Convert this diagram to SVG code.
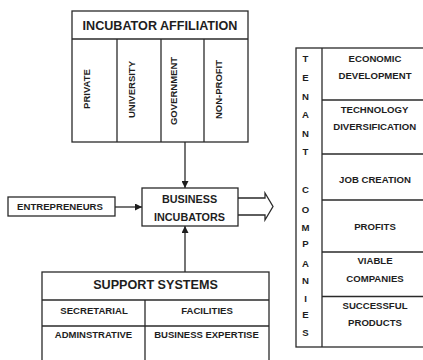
<svg xmlns="http://www.w3.org/2000/svg" width="423" height="360" viewBox="0 0 423 360">
<defs>
<style>
.box{fill:#fff;stroke:#2a2a2a;stroke-width:1.3}
.ln{fill:none;stroke:#2a2a2a;stroke-width:1.3}
text{font-family:"Liberation Sans",Arial,sans-serif;font-weight:bold;fill:#1e1e1e;text-anchor:middle}
.t13{font-size:12.6px}
.t11{font-size:10.8px}
.t10{font-size:9.6px}
.t9{font-size:9.5px}
</style>
<marker id="ah" viewBox="0 0 10 10" refX="10" refY="5" markerWidth="7" markerHeight="7" markerUnits="userSpaceOnUse" orient="auto">
<path d="M0,0 L10,5 L0,10 Z" fill="#1e1e1e"/>
</marker>
</defs>
<rect width="423" height="360" fill="#fff"/>

<g id="connectors">
<line class="ln" x1="185" y1="142" x2="185" y2="188" marker-end="url(#ah)"/>
<line class="ln" x1="115" y1="207" x2="142" y2="207" marker-end="url(#ah)"/>
<line class="ln" x1="185" y1="272" x2="185" y2="226" marker-end="url(#ah)"/>
<polyline class="box" points="238,198 265,198 265,193 273,206.5 265,220 265,215 238,215"/>
</g>

<g id="incubator-affiliation">
<rect class="box" x="72" y="11" width="176" height="131"/>
<line class="ln" x1="72" y1="39" x2="248" y2="39"/>
<line class="ln" x1="117" y1="39" x2="117" y2="142"/>
<line class="ln" x1="161" y1="39" x2="161" y2="142"/>
<line class="ln" x1="204" y1="39" x2="204" y2="142"/>
<text class="t13" x="160" y="29.5">INCUBATOR AFFILIATION</text>
<text class="t9" transform="translate(90,89) rotate(-90)">PRIVATE</text>
<text class="t9" transform="translate(135,89.5) rotate(-90)">UNIVERSITY</text>
<text class="t9" transform="translate(177,91) rotate(-90)">GOVERNMENT</text>
<text class="t9" transform="translate(222,89.5) rotate(-90)">NON-PROFIT</text>
</g>

<g id="entrepreneurs">
<rect class="box" x="8" y="197" width="107" height="19"/>
<text class="t10" x="60" y="210">ENTREPRENEURS</text>
</g>

<g id="business-incubators">
<rect class="box" x="142" y="188" width="96" height="38"/>
<text class="t11" x="189.5" y="203">BUSINESS</text>
<text class="t11" x="189.5" y="221">INCUBATORS</text>
</g>

<g id="support-systems">
<rect class="box" x="42" y="272" width="227" height="98"/>
<line class="ln" x1="42" y1="300" x2="269" y2="300"/>
<line class="ln" x1="42" y1="326" x2="269" y2="326"/>
<line class="ln" x1="145" y1="300" x2="145" y2="370"/>
<text class="t13" x="155.5" y="288.5">SUPPORT SYSTEMS</text>
<text class="t10" x="94" y="314">SECRETARIAL</text>
<text class="t10" x="207" y="314">FACILITIES</text>
<text class="t9" x="93.5" y="338">ADMINSTRATIVE</text>
<text class="t9" x="206.5" y="338">BUSINESS EXPERTISE</text>
</g>

<g id="tenant-companies">
<rect class="box" x="296" y="48" width="140" height="299"/>
<line class="ln" x1="322" y1="48" x2="322" y2="347"/>
<line class="ln" x1="322" y1="100" x2="436" y2="100"/>
<line class="ln" x1="322" y1="154" x2="436" y2="154"/>
<line class="ln" x1="322" y1="200" x2="436" y2="200"/>
<line class="ln" x1="322" y1="252" x2="436" y2="252"/>
<line class="ln" x1="322" y1="296.5" x2="436" y2="296.5"/>
<g class="t10">
<text x="305.5" y="61.7">T</text>
<text x="305.5" y="81">E</text>
<text x="305.5" y="100">N</text>
<text x="305.5" y="118.3">A</text>
<text x="305.5" y="137.3">N</text>
<text x="305.5" y="155">T</text>
<text x="305.5" y="192.7">C</text>
<text x="305.5" y="212.7">O</text>
<text x="305.5" y="230.7">M</text>
<text x="305.5" y="246.7">P</text>
<text x="305.5" y="267.3">A</text>
<text x="305.5" y="284.3">N</text>
<text x="305.5" y="301.7">I</text>
<text x="305.5" y="318.3">E</text>
<text x="305.5" y="335.7">S</text>
</g>
<g class="t10">
<text x="375" y="61.7">ECONOMIC</text>
<text x="375" y="79">DEVELOPMENT</text>
<text x="374.5" y="113.3">TECHNOLOGY</text>
<text x="374.7" y="130">DIVERSIFICATION</text>
<text x="375" y="183.3">JOB CREATION</text>
<text x="375" y="230">PROFITS</text>
<text x="375" y="264.3">VIABLE</text>
<text x="375" y="281.7">COMPANIES</text>
<text x="375" y="309.3">SUCCESSFUL</text>
<text x="375" y="325.7">PRODUCTS</text>
</g>
</g>
</svg>
